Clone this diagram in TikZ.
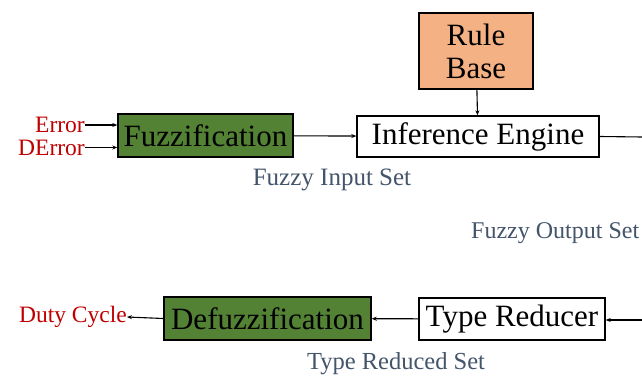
\documentclass[tikz,border=0pt]{standalone}
\usepackage{fontspec}
\setmainfont{Liberation Serif}
\usetikzlibrary{arrows.meta,positioning}

\definecolor{fzgreen}{RGB}{84,130,53}
\definecolor{fzorange}{RGB}{244,177,131}
\definecolor{fzred}{RGB}{192,0,0}
\definecolor{fzblue}{RGB}{68,84,106}

\tikzset{
    block/.style={draw=black, line width=1.4pt, inner sep=0pt, align=center,
        font=\fontsize{31}{33}\selectfont},
    sig/.style={fzred, inner sep=0pt, font=\fontsize{23.5}{25}\selectfont},
    setlabel/.style={fzblue, inner sep=0pt, font=\fontsize{25}{27}\selectfont},
    flow/.style={line width=1.1pt, -{Stealth[length=5pt,width=4pt]}}
}

\begin{document}
\begin{tikzpicture}[x=1pt,y=-1pt]
    \useasboundingbox (0,0) rectangle (642,377);
    \clip (0,0) rectangle (642,377);

    % top row
    \node[block, fill=fzorange, minimum width=114pt, minimum height=76pt] (rule) at (476,51) {Rule\\Base};
    \node[block, fill=white, minimum width=242pt, minimum height=41pt] (infer) at (478,136.5) {Inference Engine};
    \node[block, fill=fzgreen, minimum width=175pt, minimum height=43pt] (fuzz) at (205.5,135.5) {Fuzzification};
    \node[sig, anchor=east] (err) at (85,125) {Error};
    \node[sig, anchor=east] (derr) at (85,147.5) {DError};
    \coordinate (outR) at (642,137);

    \draw[flow] (err.east) -- (err.east -| fuzz.west);
    \draw[flow] (derr.east) -- (derr.east -| fuzz.west);
    \draw[flow] (fuzz) -- (infer);
    \draw[flow] (rule) -- (infer);
    \draw[line width=1.1pt] (infer.east) -- (outR);

    \node[setlabel] (inset) at (332,180) {Fuzzy Input Set};
    \node[setlabel, anchor=west, font=\fontsize{24}{26}\selectfont] (outset) at (471,233) {Fuzzy Output Set};

    % bottom row
    \coordinate (inR) at (642,320);
    \node[block, fill=white, minimum width=186pt, minimum height=42pt] (reduce) at (512,319) {Type Reducer};
    \node[block, fill=fzgreen, minimum width=207pt, minimum height=43pt] (defuzz) at (267.5,318.5) {Defuzzification};
    \node[sig, anchor=east] (duty) at (127,317) {Duty Cycle};

    \draw[flow] (inR) -- (inR -| reduce.east);
    \draw[flow] (reduce) -- (defuzz);
    \draw[flow] (defuzz.west) -- (duty.east);

    \node[setlabel, font=\fontsize{24.5}{26}\selectfont] (redset) at (396,364) {Type Reduced Set};
\end{tikzpicture}
\end{document}
